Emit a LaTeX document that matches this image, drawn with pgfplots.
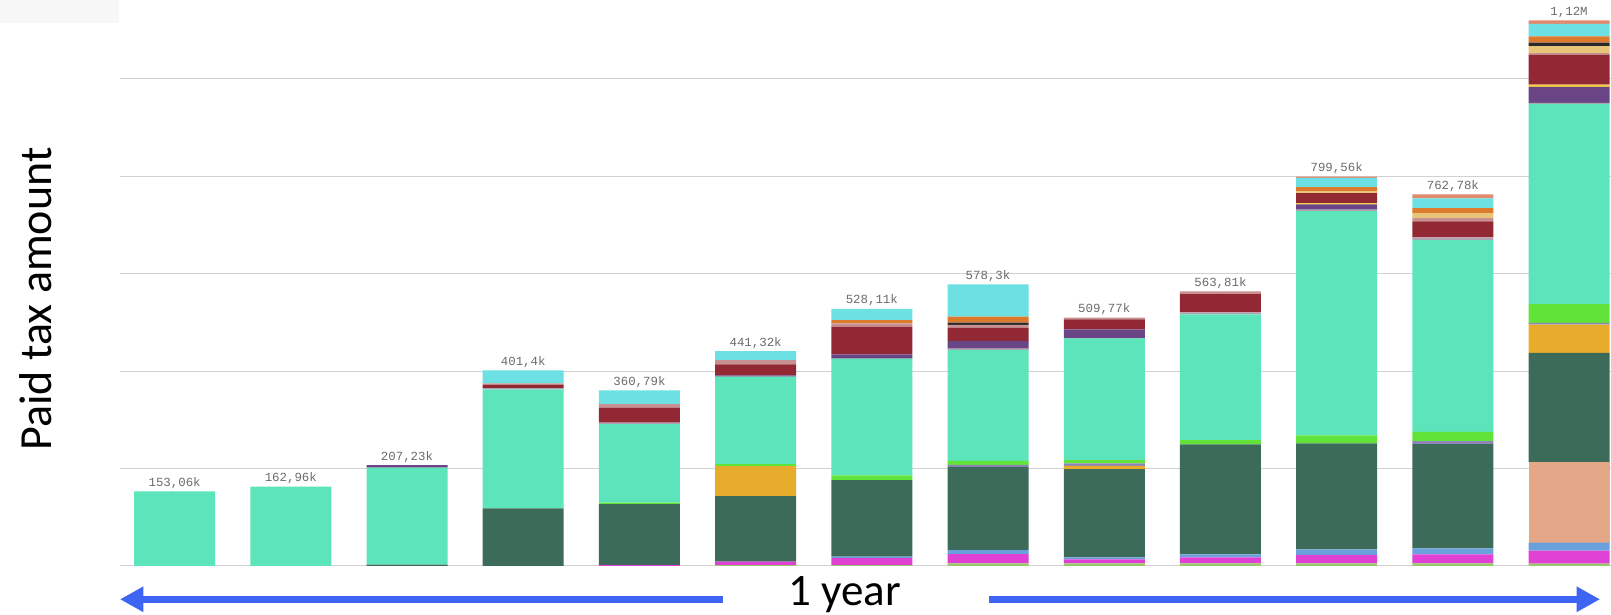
\documentclass[border=0pt]{standalone}
\usepackage{fontspec}
\setmainfont{Carlito}
\newfontfamily\labelfont{Liberation Mono}
\usepackage{pgfplots}
\usepackage{pgfplotstable}
\pgfplotsset{compat=1.18}
\usetikzlibrary{arrows.meta}

\definecolor{cLg}{HTML}{99C86A}
\definecolor{cMag}{HTML}{E040D4}
\definecolor{cLb}{HTML}{6AA0DC}
\definecolor{cPeach}{HTML}{E4A888}
\definecolor{cDg}{HTML}{3D6B5A}
\definecolor{cGold}{HTML}{E8AC2C}
\definecolor{cGv}{HTML}{8F86B8}
\definecolor{cBg}{HTML}{62E33A}
\definecolor{cMint}{HTML}{5CE4BA}
\definecolor{cGl}{HTML}{B0A0B0}
\definecolor{cPur}{HTML}{6A4585}
\definecolor{cYel}{HTML}{F2D040}
\definecolor{cDr}{HTML}{922834}
\definecolor{cPink}{HTML}{C89090}
\definecolor{cTan}{HTML}{E8C478}
\definecolor{cBlk}{HTML}{2A2A2A}
\definecolor{cOrg}{HTML}{DC7A2E}
\definecolor{cCyan}{HTML}{6CE0E2}
\definecolor{cSalm}{HTML}{E08A6E}
\definecolor{arrowblue}{HTML}{3D64F2}

% values in thousands, one row per bar, bottom layer first
\pgfplotstableread{
x  lg  mag  lb   peach dg    gold gv  bg   mint   gl  pur  yel dr   pink tan  blk org  cyan salm total  label
0  0   0    0    0     0     0    0   0    153.06 0   0    0   0    0    0    0   0    0    0    153.06 153,06k
1  0   0    0    0     0     0    0   0    162.96 0   0    0   0    0    0    0   0    0    0    162.96 162,96k
2  0   0    0    0     3.0   0    0   0    199.2  0   5.0  0   0    0    0    0   0    0    0    207.23 207,23k
3  0   0    0    0     118.3 0    0   0    244.1  2.7 0    0   7.5  2.1  0    0   0    26.7 0    401.4  401,4k
4  0   2.1  0    0     125.1 0    0   2.7  161.2  3.4 0    0   30.1 7.5  0    0   0    28.7 0    360.79 360,79k
5  2.0 6.8  0    0     134.7 61.5 0   4.1  179.5  0   2.7  0   22.6 8.9  0    0   0    18.5 0    441.32 441,32k
6  2.0 14.4 2.7  0     157.3 0    0   9.6  239.7  0   8.9  0   56.7 6.8  0    0   6.8  23.2 0    528.11 528,11k
7  5.5 19.1 8.2  0     170.9 0    4.1 8.2  227.6  2.7 15.7 0   27.3 5.5  0    4.8 12.3 66.3 0    578.3  578,3k
8  5.5 8.2  4.1  0     181.2 6.8  4.8 6.8  250.0  0   18.5 0   20.5 3.4  0    0   0    0    0    509.77 509,77k
9  5.5 12.3 6.2  0     225.6 0    0   8.9  258.1  4.1 0    0   37.6 5.5  0    0   0    0    0    563.81 563,81k
10 5.5 17.1 11.6 0     217.4 0    0   16.4 460.7  2.7 10.9 2.7 20.5 0    4.1  0   8.2  19.1 2.7  799.56 799,56k
11 5.5 18.5 12.3 0     214.0 0    6.2 19.1 393.5  5.5 0    0   32.8 6.8  10.3 0   10.3 19.8 8.2  762.78 762,78k
12 5.1 26.3 16.4 166.1 223.6 58.2 3.3 38.4 411.2  2.0 32.8 4.7 61.5 3.5  14.4 6.8 12.9 26.0 6.8  1120   1,12M
}\taxdata

\pgfplotsset{
    taxframe/.style={
        scale only axis,
        width=745.5pt, height=283pt,
        xmin=-0.470, xmax=12.361,
        ymin=0, ymax=1162,
        clip=false,
    },
}

\begin{document}
\begin{tikzpicture}
\useasboundingbox (-60pt,-24.5pt) rectangle (745.5pt,283pt);
\fill[black!3] (-60pt,283pt) rectangle (-0.5pt,271.5pt);

\begin{axis}[
    taxframe,
    ybar stacked,
    bar width=40.5pt,
    axis line style={draw=none},
    tick style={draw=none},
    xtick=\empty,
    ytick={0,200,400,600,800,1000},
    yticklabels={},
    ymajorgrids=true,
    grid style={color=black!18, line width=0.5pt},
]
\addplot[fill=cLg, draw=none] table[x=x, y=lg] {\taxdata};
\addplot[fill=cMag, draw=none] table[x=x, y=mag] {\taxdata};
\addplot[fill=cLb, draw=none] table[x=x, y=lb] {\taxdata};
\addplot[fill=cPeach, draw=none] table[x=x, y=peach] {\taxdata};
\addplot[fill=cDg, draw=none] table[x=x, y=dg] {\taxdata};
\addplot[fill=cGold, draw=none] table[x=x, y=gold] {\taxdata};
\addplot[fill=cGv, draw=none] table[x=x, y=gv] {\taxdata};
\addplot[fill=cBg, draw=none] table[x=x, y=bg] {\taxdata};
\addplot[fill=cMint, draw=none] table[x=x, y=mint] {\taxdata};
\addplot[fill=cGl, draw=none] table[x=x, y=gl] {\taxdata};
\addplot[fill=cPur, draw=none] table[x=x, y=pur] {\taxdata};
\addplot[fill=cYel, draw=none] table[x=x, y=yel] {\taxdata};
\addplot[fill=cDr, draw=none] table[x=x, y=dr] {\taxdata};
\addplot[fill=cPink, draw=none] table[x=x, y=pink] {\taxdata};
\addplot[fill=cTan, draw=none] table[x=x, y=tan] {\taxdata};
\addplot[fill=cBlk, draw=none] table[x=x, y=blk] {\taxdata};
\addplot[fill=cOrg, draw=none] table[x=x, y=org] {\taxdata};
\addplot[fill=cCyan, draw=none] table[x=x, y=cyan] {\taxdata};
\addplot[fill=cSalm, draw=none] table[x=x, y=salm] {\taxdata};
\end{axis}

% bar totals, set above the stacks
\begin{axis}[taxframe, hide axis]
\addplot[draw=none, mark=none,
    nodes near coords,
    point meta=explicit symbolic,
    every node near coord/.append style={anchor=base, yshift=2.5pt, inner sep=0pt,
        font=\labelfont\fontsize{6.2}{7}\selectfont, text=black!58},
] table[x=x, y=total, meta=label] {\taxdata};
\end{axis}

\node[rotate=90, anchor=base, font=\fontsize{23}{27}\selectfont] at (-34.3pt,133.5pt) {Paid tax amount};
\node[anchor=base, font=\fontsize{22.5}{27}\selectfont] at (362.3pt,-19.8pt) {1 year};
\draw[arrowblue, line width=3.65pt, -{Triangle[length=11.7pt,width=12pt]}] (301.4pt,-16.65pt) -- (0pt,-16.65pt);
\draw[arrowblue, line width=3.65pt, -{Triangle[length=11.7pt,width=12pt]}] (434.5pt,-16.65pt) -- (740pt,-16.65pt);
\end{tikzpicture}
\end{document}
